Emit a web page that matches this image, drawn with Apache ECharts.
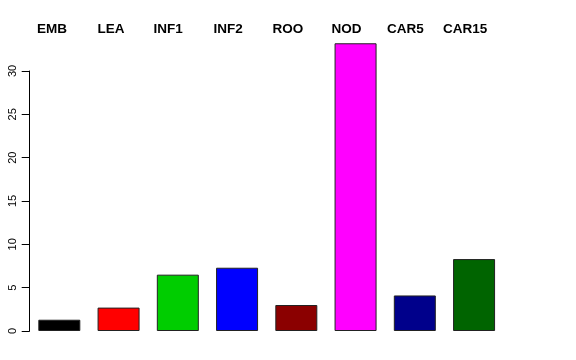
<!DOCTYPE html>
<html>
<head>
<meta charset="utf-8">
<script src="https://cdn.jsdelivr.net/npm/echarts@6/dist/echarts.min.js"></script>
<style>html,body{margin:0;padding:0;background:#fff}#c{width:576px;height:360px}</style>
</head>
<body>
<div id="c"></div>
<script>
const categories = ['EMB', 'LEA', 'INF1', 'INF2', 'ROO', 'NOD', 'CAR5', 'CAR15'];
const values = [1.3, 2.7, 6.5, 7.3, 3.0, 33.2, 4.1, 8.3];
const barColors = ['#000000', '#FF0000', '#00CD00', '#0000FF', '#8B0000', '#FF00FF', '#00008B', '#006400'];
const yTicks = [0, 5, 10, 15, 20, 25, 30];

// layout only: left x of each top label
const labelLeft = [37, 97.5, 153.5, 213.5, 272.5, 331.5, 387, 443];

const chart = echarts.init(document.getElementById('c'), null, {renderer: 'canvas'});
chart.setOption({
  animation: false,
  backgroundColor: '#ffffff',
  grid: {left: 29.7, top: 71, width: 474, bottom: 29, containLabel: false},
  xAxis: {
    type: 'category',
    data: categories,
    show: false,
    boundaryGap: true
  },
  yAxis: {
    type: 'value',
    min: yTicks[0],
    max: yTicks[yTicks.length - 1],
    interval: 5,
    axisLine: {show: true, lineStyle: {color: '#000', width: 1}},
    axisTick: {show: true, length: 8, lineStyle: {color: '#000', width: 1}},
    splitLine: {show: false},
    axisLabel: {
      rotate: 90,
      margin: 11,
      color: '#000',
      fontFamily: 'Liberation Sans, Arial, sans-serif',
      fontSize: 11
    }
  },
  series: [{
    type: 'bar',
    clip: false,
    barWidth: 42,
    data: values.map((v, i) => ({
      value: v,
      itemStyle: {color: barColors[i], borderColor: '#222', borderWidth: 1}
    }))
  }],
  graphic: categories.map((c, i) => ({
    type: 'text',
    left: labelLeft[i],
    top: 22.5,
    style: {
      text: c,
      fill: '#000',
      font: 'bold 13.5px "Liberation Sans", Arial, sans-serif'
    }
  }))
});
</script>
</body>
</html>
